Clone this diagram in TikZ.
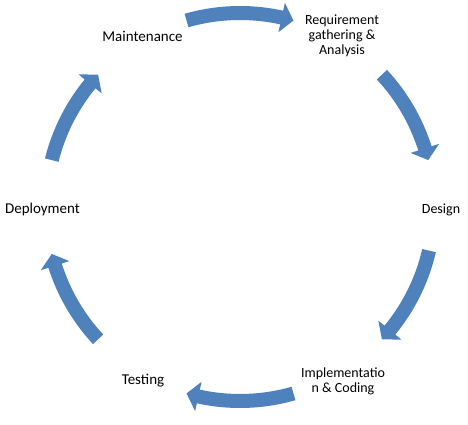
\documentclass[tikz,border=0pt]{standalone}
\usepackage{fontspec}
\setmainfont{Carlito}
\definecolor{arrowblue}{RGB}{79,129,189}
\newcommand\cyclearrow[2]{%
  \pgfmathsetmacro\hb{#2+3.6}%
  \fill[arrowblue] ([shift={(C)}]#1:201) arc[start angle=#1,end angle=\hb,radius=201]
    -- ([shift={(C)}]\hb:209) -- ([shift={(C)}]#2:194) -- ([shift={(C)}]\hb:179)
    -- ([shift={(C)}]\hb:187) arc[start angle=\hb,end angle=#1,radius=187] -- cycle;}
\begin{document}
\begin{tikzpicture}[x=1pt,y=1pt,
  big/.style={font=\fontsize{15}{15}\selectfont, align=center, inner sep=0pt},
  small/.style={font=\fontsize{14}{15}\selectfont, align=center, inner sep=0pt}]
\useasboundingbox (0,0) rectangle (468,424);
\coordinate (C) at (240,217);
\cyclearrow{106}{74}
\cyclearrow{43}{14}
\cyclearrow{-13}{-43}
\cyclearrow{-74}{-106}
\cyclearrow{-137}{-166}
\cyclearrow{166}{137}
\node[small] (req) at (342,388) {Requirement\\gathering \&\\Analysis};
\node[small] (des) at (441,214) {Design};
\node[small] (imp) at (343,42.5) {Implementatio\\n \& Coding};
\node[big] (tes) at (143,43) {Testing};
\node[big] (dep) at (42.5,215) {Deployment};
\node[big] (mai) at (142.5,388) {Maintenance};
\end{tikzpicture}
\end{document}
